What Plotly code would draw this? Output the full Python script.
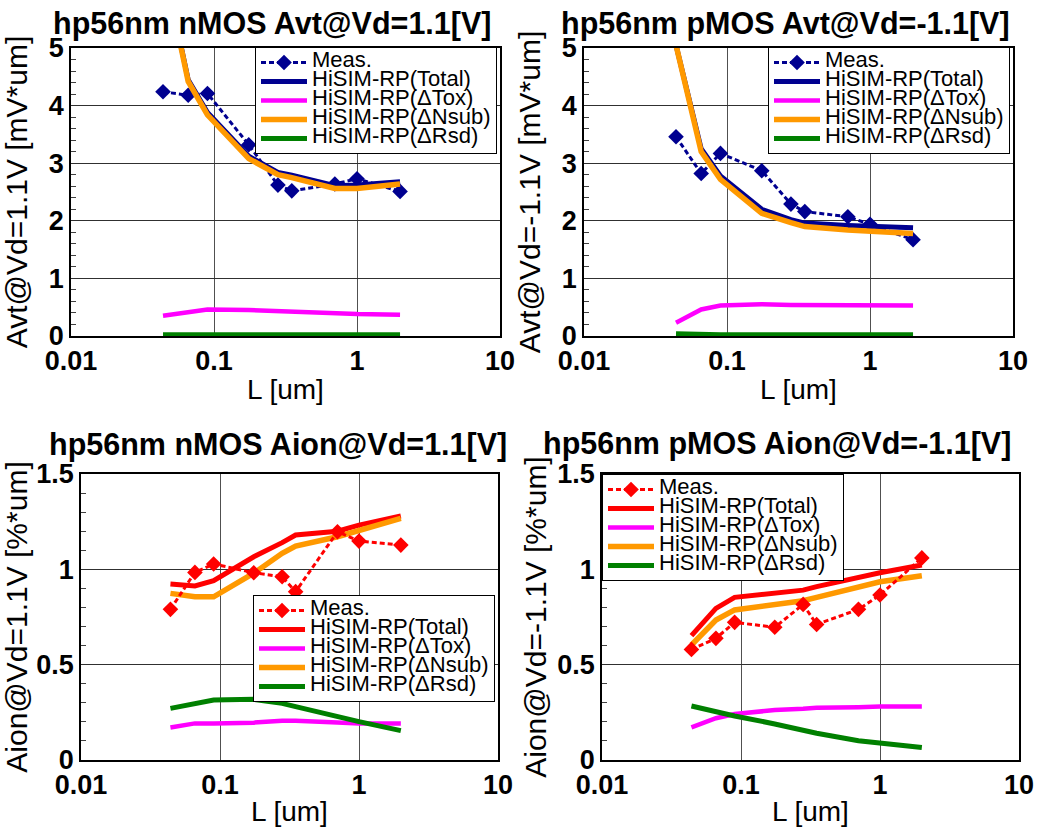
import plotly.graph_objects as go

# ---------------- data ----------------
L_meas = [0.044, 0.066, 0.09, 0.175, 0.28, 0.35, 0.7, 1.0, 2.0]
L_sim = [0.044, 0.066, 0.09, 0.175, 0.28, 0.35, 0.7, 1.0, 2.0]

# nMOS Avt
n_avt_meas = [4.24, 4.18, 4.21, 3.32, 2.62, 2.52, 2.64, 2.73, 2.51]
n_avt_total = [6.5, 4.45, 3.88, 3.12, 2.84, 2.79, 2.61, 2.62, 2.68]
n_avt_tox = [0.35, 0.42, 0.46, 0.45, 0.43, 0.42, 0.39, 0.38, 0.37]
n_avt_nsub = [6.5, 4.42, 3.84, 3.08, 2.80, 2.75, 2.56, 2.56, 2.64]
n_avt_rsd = [0.02, 0.02, 0.02, 0.02, 0.02, 0.02, 0.02, 0.02, 0.02]

# pMOS Avt
p_avt_meas = [3.46, 2.82, 3.17, 2.87, 2.29, 2.16, 2.07, 1.94, 1.67]
p_avt_total = [5.05, 3.25, 2.78, 2.20, 2.02, 1.96, 1.92, 1.90, 1.88]
p_avt_tox = [0.23, 0.46, 0.53, 0.55, 0.54, 0.54, 0.53, 0.53, 0.53]
p_avt_nsub = [5.05, 3.20, 2.72, 2.13, 1.97, 1.90, 1.84, 1.82, 1.78]
p_avt_rsd = [0.04, 0.02, 0.02, 0.02, 0.02, 0.02, 0.02, 0.02, 0.02]

# nMOS Aion
n_aion_meas = [0.79, 0.984, 1.028, 0.982, 0.961, 0.883, 1.197, 1.148, 1.127]
n_aion_total = [0.923, 0.913, 0.94, 1.066, 1.14, 1.18, 1.20, 1.232, 1.28]
n_aion_tox = [0.17, 0.192, 0.192, 0.196, 0.206, 0.206, 0.197, 0.192, 0.192]
n_aion_nsub = [0.874, 0.856, 0.856, 0.98, 1.084, 1.122, 1.171, 1.206, 1.267]
n_aion_rsd = [0.271, 0.297, 0.315, 0.318, 0.297, 0.28, 0.227, 0.201, 0.154]

# pMOS Aion
p_aion_meas = [0.58, 0.638, 0.722, 0.696, 0.816, 0.711, 0.79, 0.865, 1.06]
p_aion_total = [0.652, 0.795, 0.853, 0.874, 0.891, 0.909, 0.961, 0.982, 1.023]
p_aion_tox = [0.171, 0.219, 0.241, 0.262, 0.269, 0.274, 0.277, 0.28, 0.28]
p_aion_nsub = [0.603, 0.734, 0.787, 0.813, 0.835, 0.853, 0.909, 0.935, 0.966]
p_aion_rsd = [0.283, 0.25, 0.231, 0.189, 0.154, 0.14, 0.101, 0.087, 0.065]

series_names = ["Meas.", "HiSIM-RP(Total)", "HiSIM-RP(ΔTox)",
                "HiSIM-RP(ΔNsub)", "HiSIM-RP(ΔRsd)"]
titles = ["hp56nm nMOS Avt@Vd=1.1[V]", "hp56nm pMOS Avt@Vd=-1.1[V]",
          "hp56nm nMOS Aion@Vd=1.1[V]", "hp56nm pMOS Aion@Vd=-1.1[V]"]
ytitles = ["Avt@Vd=1.1V [mV*um]", "Avt@Vd=-1.1V [mV*um]",
           "Aion@Vd=1.1V [%*um]", "Aion@Vd=-1.1V [%*um]"]
xtitle = "L [um]"
xtick_vals = [0.01, 0.1, 1, 10]
xtick_text = ["0.01", "0.1", "1", "10"]

# ---------------- styling ----------------
FONT = "Liberation Sans, Arial, sans-serif"
W, H = 1041, 827
NAVY = "#000090"
RED = "#FF0000"
MAGENTA = "#FF00FF"
ORANGE = "#FF9900"
GREEN = "#008000"

panels = [
    dict(meas=n_avt_meas, total=n_avt_total, tox=n_avt_tox, nsub=n_avt_nsub, rsd=n_avt_rsd,
         mcol=NAVY, tcol=NAVY, meas_top=False,
         xdom=(71, 500), ydom=(48, 336), yrange=[0, 5], dtick=1, minor=0.2,
         legend=(255, 47), title=(272, 24), standoff=12),
    dict(meas=p_avt_meas, total=p_avt_total, tox=p_avt_tox, nsub=p_avt_nsub, rsd=p_avt_rsd,
         mcol=NAVY, tcol=NAVY, meas_top=False,
         xdom=(584, 1013), ydom=(48, 336), yrange=[0, 5], dtick=1, minor=0.2,
         legend=(768, 47), title=(785, 24), standoff=12),
    dict(meas=n_aion_meas, total=n_aion_total, tox=n_aion_tox, nsub=n_aion_nsub, rsd=n_aion_rsd,
         mcol=RED, tcol=RED, meas_top=True,
         xdom=(81, 498), ydom=(474, 760), yrange=[0, 1.5], dtick=0.5, minor=0.1,
         legend=(253, 595), title=(278, 445), standoff=2),
    dict(meas=p_aion_meas, total=p_aion_total, tox=p_aion_tox, nsub=p_aion_nsub, rsd=p_aion_rsd,
         mcol=RED, tcol=RED, meas_top=True,
         xdom=(602, 1019), ydom=(474, 760), yrange=[0, 1.5], dtick=0.5, minor=0.1,
         legend=(602, 474), title=(777, 443), standoff=2),
]


def lname(s):
    return '<span style="font-size:22px">' + s + '</span>'


fig = go.Figure()
layout = dict(
    width=W, height=H, margin=dict(l=0, r=0, t=0, b=0),
    paper_bgcolor="white", plot_bgcolor="white",
    font=dict(family=FONT, color="black"),
    annotations=[],
)

for i, p in enumerate(panels):
    k = i + 1
    sfx = "" if k == 1 else str(k)
    xa, ya = "x" + sfx, "y" + sfx
    leg = "legend" + sfx

    meas_tr = go.Scatter(
        x=L_meas, y=p["meas"], name=lname(series_names[0]), mode="lines+markers",
        line=dict(color=p["mcol"], width=3, dash="5px,3px"),
        marker=dict(symbol="diamond", size=12, color=p["mcol"]),
        xaxis=xa, yaxis=ya, legend=leg, legendrank=1)
    sim = [
        go.Scatter(x=L_sim, y=p["total"], name=lname(series_names[1]), mode="lines",
                   line=dict(color=p["tcol"], width=5), xaxis=xa, yaxis=ya, legend=leg, legendrank=2),
        go.Scatter(x=L_sim, y=p["tox"], name=lname(series_names[2]), mode="lines",
                   line=dict(color=MAGENTA, width=4.5), xaxis=xa, yaxis=ya, legend=leg, legendrank=3),
        go.Scatter(x=L_sim, y=p["nsub"], name=lname(series_names[3]), mode="lines",
                   line=dict(color=ORANGE, width=5.5), xaxis=xa, yaxis=ya, legend=leg, legendrank=4),
        go.Scatter(x=L_sim, y=p["rsd"], name=lname(series_names[4]), mode="lines",
                   line=dict(color=GREEN, width=5), xaxis=xa, yaxis=ya, legend=leg, legendrank=5),
    ]
    if p["meas_top"]:
        for t in sim:
            fig.add_trace(t)
        fig.add_trace(meas_tr)
    else:
        fig.add_trace(meas_tr)
        for t in sim:
            fig.add_trace(t)

    x0, x1 = p["xdom"]
    y0, y1 = p["ydom"]
    layout["xaxis" + sfx] = dict(
        domain=[x0 / W, x1 / W], anchor=ya, type="log", range=[-2, 1], automargin=False,
        tickmode="array", tickvals=xtick_vals, ticktext=xtick_text,
        tickfont=dict(family=FONT, size=27, weight="bold", color="black"),
        showline=True, linecolor="black", linewidth=1.5, mirror=True,
        showgrid=True, gridcolor="#505050", gridwidth=1.2, ticks="", zeroline=False,
        title=dict(text=xtitle, font=dict(family=FONT, size=28, color="black"), standoff=4),
    )
    layout["yaxis" + sfx] = dict(
        domain=[1 - y1 / H, 1 - y0 / H], anchor=xa, range=p["yrange"], dtick=p["dtick"],
        automargin=False,
        tickfont=dict(family=FONT, size=27, weight="bold", color="black"),
        showline=True, linecolor="black", linewidth=1.5, mirror=True,
        showgrid=True, gridcolor="#303030", gridwidth=1.2, ticks="", zeroline=False,
        minor=dict(dtick=p["minor"], ticks="inside", ticklen=5, tickcolor="#404040",
                   tickwidth=1, showgrid=False),
        title=dict(text=ytitles[i], font=dict(family=FONT, size=30, color="black"),
                   standoff=p["standoff"]),
    )
    lx, ly = p["legend"]
    layout[leg] = dict(
        x=lx / W, y=1 - ly / H, xanchor="left", yanchor="top",
        bgcolor="white", bordercolor="black", borderwidth=1,
        font=dict(family=FONT, size=12.3, color="black"),
        itemwidth=46, tracegroupgap=0, traceorder="normal",
    )
    tx, ty = p["title"]
    layout["annotations"].append(dict(
        text=titles[i], x=tx / W, y=1 - ty / H, xref="paper", yref="paper",
        xanchor="center", yanchor="middle", showarrow=False,
        font=dict(family=FONT, size=30.5, weight="bold", color="black")))

fig.update_layout(**layout)
fig.write_html("out.html")
